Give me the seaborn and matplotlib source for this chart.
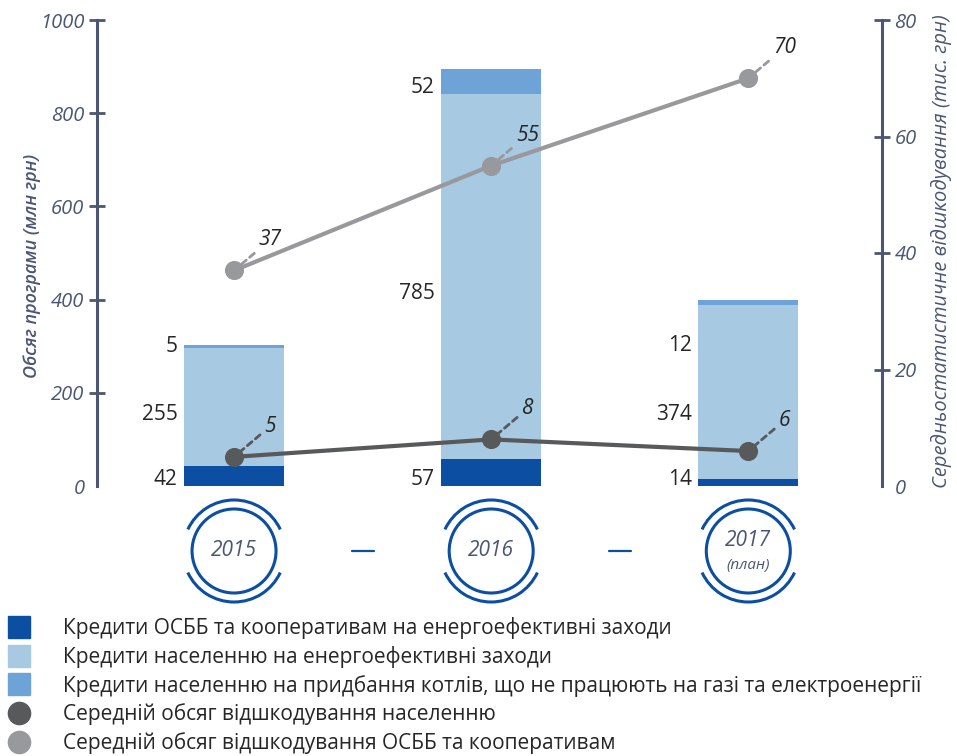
import numpy as np
import pandas as pd
import matplotlib
matplotlib.use('Agg')
import matplotlib.pyplot as plt
import seaborn as sns
from matplotlib.patches import Circle, Arc
from matplotlib.lines import Line2D

# data
years = ['2015', '2016', '2017']
year_labels = ['2015', '2016', '2017']
plan_note = '(план)'
osbb_credit = [42, 57, 14]          # Кредити ОСББ та кооперативам
household_credit = [255, 785, 374]  # Кредити населенню на енергоефективні заходи
boiler_credit = [5, 52, 12]         # Кредити на котли
avg_household = [5, 8, 6]           # тис. грн
avg_osbb = [37, 55, 70]             # тис. грн

legend_labels = [
    'Кредити ОСББ та кооперативам на енергоефективні заходи',
    'Кредити населенню на енергоефективні заходи',
    'Кредити населенню на придбання котлів, що не працюють на газі та електроенергії',
    'Середній обсяг відшкодування населенню',
    'Середній обсяг відшкодування ОСББ та кооперативам',
]

# label placement (data units of the left axis)
top_label_y = [300, 856, 302]
mid_label_y = [154, 414, 154]
bottom_label_y = [14, 14, 14]

AXIS_COLOR = '#4b5674'
DARK_BLUE = '#0b4ea2'
LIGHT_BLUE = '#a7c9e1'
MID_BLUE = '#6ea3d8'
LIGHT_GRAY = '#98999d'
DARK_GRAY = '#58595b'

sns.set_style('white')
plt.rcParams['font.family'] = ['Open Sans', 'DejaVu Sans']

df = pd.DataFrame({'year': years, 'osbb': osbb_credit,
                   'household': household_credit, 'boiler': boiler_credit})
df['lvl2'] = df['osbb'] + df['household']
df['lvl3'] = df['lvl2'] + df['boiler']

fig = plt.figure(figsize=(9.57, 7.56), dpi=100)
ax = fig.add_axes([97 / 957, 270 / 756, 785 / 957, 466 / 756])

bar_w = 0.39
for col, colr in [('lvl3', MID_BLUE), ('lvl2', LIGHT_BLUE), ('osbb', DARK_BLUE)]:
    sns.barplot(data=df, x='year', y=col, color=colr, width=bar_w, saturation=1,
                errorbar=None, linewidth=0, ax=ax)

ax2 = ax.twinx()
sns.pointplot(x=years, y=avg_osbb, ax=ax2, color=LIGHT_GRAY, markers='o',
              markersize=11.5, linewidth=3, errorbar=None)
sns.pointplot(x=years, y=avg_household, ax=ax2, color=DARK_GRAY, markers='o',
              markersize=11.5, linewidth=3, errorbar=None)

ax.set_xlim(-0.533, 2.52)
ax.set_ylim(0, 1000)
ax2.set_ylim(0, 80)

for a in (ax, ax2):
    a.set_xticks([])
    a.set_xlabel('')
    for s in ('top', 'bottom', 'left', 'right'):
        a.spines[s].set_visible(False)
ax.spines['left'].set_visible(True)
ax.spines['left'].set_color(AXIS_COLOR)
ax.spines['left'].set_linewidth(2.2)
ax2.spines['right'].set_visible(True)
ax2.spines['right'].set_color(AXIS_COLOR)
ax2.spines['right'].set_linewidth(2.2)

ax.set_yticks(np.arange(0, 1001, 200))
ax.set_yticklabels([str(v) for v in range(0, 1001, 200)], fontstyle='italic')
ax2.set_yticks(np.arange(0, 81, 20))
ax2.set_yticklabels([str(v) for v in range(0, 81, 20)], fontstyle='italic')
for a in (ax, ax2):
    a.tick_params(axis='y', direction='inout', length=12, width=2,
                  color=AXIS_COLOR, labelcolor=AXIS_COLOR, labelsize=14.5, pad=3)
ax.yaxis.get_major_ticks()[0].tick1line.set_visible(False)
ax2.yaxis.get_major_ticks()[0].tick2line.set_visible(False)

ax.set_ylabel('Обсяг програми (млн грн)', fontstyle='italic', fontweight='semibold',
              color=AXIS_COLOR, fontsize=13)
ax.yaxis.set_label_coords(-0.0713, 0.472)
ax2.set_ylabel('Середньостатистичне відшкодування (тис. грн)', fontstyle='italic',
               color=AXIS_COLOR, fontsize=14.5, rotation=90)
ax2.yaxis.set_label_coords(1.062, 0.505)

# stacked bar value labels
for i in range(len(years)):
    xl = i - bar_w / 2 - 0.025
    ax.text(xl, top_label_y[i], str(boiler_credit[i]), ha='right', va='center', fontsize=15)
    ax.text(xl, mid_label_y[i], str(household_credit[i]), ha='right', va='center', fontsize=15)
    ax.text(xl, bottom_label_y[i], str(osbb_credit[i]), ha='right', va='center', fontsize=15)

# line value labels with dashed leaders
for vals, colr in [(avg_osbb, LIGHT_GRAY), (avg_household, DARK_GRAY)]:
    for i, v in enumerate(vals):
        ax2.annotate(str(v), xy=(i, v), xytext=(26, 22), textcoords='offset points',
                     ha='center', va='center', fontsize=15, fontstyle='italic',
                     arrowprops=dict(arrowstyle='-', linestyle=(0, (2.2, 1.6)), color=colr,
                                     lw=2, shrinkA=1, shrinkB=6))

# year badges under the bars (pixel overlay so circles stay round)
fig.canvas.draw()
ov = fig.add_axes([0, 0, 1, 1], zorder=-1)
ov.set_xlim(0, 957)
ov.set_ylim(756, 0)
ov.axis('off')
cy = 551
centres = [ax.transData.transform((i, 0))[0] for i in range(len(years))]
for i, cx in enumerate(centres):
    ov.add_patch(Circle((cx, cy), 42, fill=False, ec=DARK_BLUE, lw=2.2))
    ov.add_patch(Arc((cx, cy), 102, 102, theta1=25, theta2=155, ec=DARK_BLUE, lw=2.2))
    ov.add_patch(Arc((cx, cy), 102, 102, theta1=205, theta2=335, ec=DARK_BLUE, lw=2.2))
    if i == len(years) - 1:
        ov.text(cx, cy - 10, year_labels[i], ha='center', va='center', fontsize=15,
                fontstyle='italic', color=AXIS_COLOR)
        ov.text(cx, cy + 15, plan_note, ha='center', va='center', fontsize=11,
                fontstyle='italic', color=AXIS_COLOR)
    else:
        ov.text(cx, cy, year_labels[i], ha='center', va='center', fontsize=15,
                fontstyle='italic', color=AXIS_COLOR)
for a, b in zip(centres[:-1], centres[1:]):
    m = (a + b) / 2
    ov.plot([m - 11, m + 11], [cy, cy], color=DARK_BLUE, lw=1.6)

handles = [
    Line2D([], [], marker='s', markersize=16, linestyle='none', color=DARK_BLUE),
    Line2D([], [], marker='s', markersize=16, linestyle='none', color=LIGHT_BLUE),
    Line2D([], [], marker='s', markersize=16, linestyle='none', color=MID_BLUE),
    Line2D([], [], marker='o', markersize=16, linestyle='none', color=DARK_GRAY),
    Line2D([], [], marker='o', markersize=16, linestyle='none', color=LIGHT_GRAY),
]
fig.legend(handles, legend_labels, loc='upper left', bbox_to_anchor=(3.4 / 957, 1 - 617 / 756),
           frameon=False, fontsize=15, handlelength=1.5, handletextpad=1.37,
           labelspacing=0.33, borderaxespad=0, borderpad=0)

fig.savefig('out.png', dpi=100)
